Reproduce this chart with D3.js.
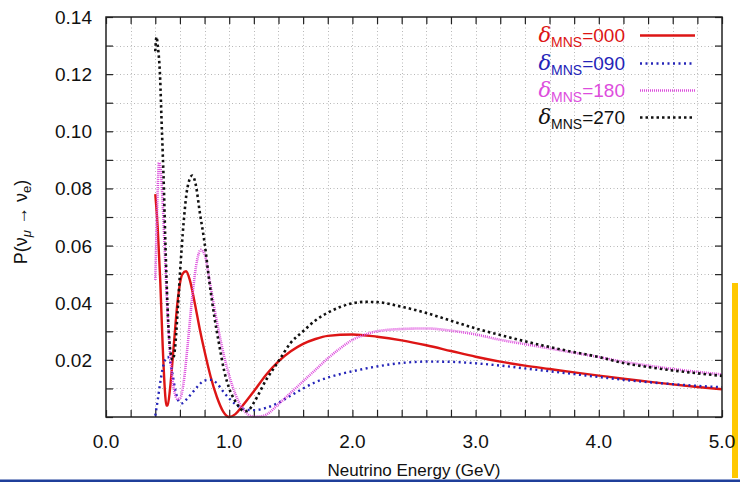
<!DOCTYPE html>
<html>
<head>
<meta charset="utf-8">
<script src="https://cdn.jsdelivr.net/npm/d3@7"></script>
<style>
  html, body { margin: 0; padding: 0; background: #fff; }
  svg { display: block; font-family: "Liberation Sans", Arial, Helvetica, sans-serif; }
</style>
</head>
<body>
<svg id="chart" width="740" height="483"></svg>
<script>
// ---------------- data ----------------
const xTickLabels = ["0.0", "1.0", "2.0", "3.0", "4.0", "5.0"];
const yTickLabels = ["0.02", "0.04", "0.06", "0.08", "0.10", "0.12", "0.14"];

const energy000 = [0.40,0.42,0.44,0.46,0.48,0.49,0.50,0.52,0.55,0.58,0.62,0.65,0.68,0.72,0.76,0.80,0.85,0.90,0.95,1.00,1.05,1.10,1.20,1.30,1.40,1.50,1.60,1.70,1.80,2.00,2.20,2.40,2.60,2.80,3.00,3.20,3.40,3.60,3.80,4.00,4.20,4.40,4.60,4.80,5.00];
const prob000   = [0.078,0.066,0.048,0.025,0.008,0.004,0.004,0.010,0.025,0.040,0.050,0.051,0.048,0.040,0.031,0.023,0.014,0.007,0.002,0.000,0.001,0.0035,0.009,0.0148,0.0195,0.023,0.0256,0.0273,0.0284,0.0289,0.0281,0.0268,0.0251,0.0231,0.0211,0.0194,0.0180,0.0168,0.0156,0.0145,0.0134,0.0124,0.0114,0.0105,0.0097];

const energy090 = [0.40,0.42,0.44,0.46,0.48,0.50,0.52,0.54,0.56,0.58,0.60,0.62,0.65,0.70,0.75,0.80,0.85,0.90,0.95,1.00,1.05,1.10,1.15,1.20,1.30,1.40,1.50,1.60,1.70,1.80,1.90,2.00,2.20,2.40,2.60,2.80,3.00,3.20,3.40,3.60,3.80,4.00,4.20,4.40,4.60,4.80,5.00];
const prob090   = [0.0005,0.006,0.012,0.017,0.020,0.021,0.0195,0.015,0.010,0.0065,0.005,0.0048,0.006,0.0085,0.011,0.0128,0.013,0.0118,0.009,0.0065,0.0045,0.0032,0.0025,0.0024,0.0032,0.005,0.0075,0.010,0.0122,0.0138,0.015,0.016,0.0177,0.0189,0.0194,0.0193,0.0188,0.018,0.017,0.016,0.015,0.014,0.013,0.0122,0.0115,0.0109,0.0104];

const energy180 = [0.40,0.41,0.42,0.43,0.44,0.46,0.48,0.50,0.52,0.54,0.56,0.58,0.60,0.63,0.66,0.70,0.74,0.77,0.80,0.84,0.88,0.92,0.96,1.00,1.05,1.10,1.15,1.20,1.25,1.30,1.40,1.50,1.60,1.70,1.80,1.90,2.00,2.10,2.20,2.40,2.60,2.80,3.00,3.20,3.40,3.60,3.80,4.00,4.20,4.40,4.60,4.80,5.00];
const prob180   = [0.048,0.065,0.080,0.089,0.088,0.075,0.055,0.036,0.022,0.013,0.008,0.0063,0.0065,0.012,0.024,0.042,0.055,0.0585,0.057,0.048,0.038,0.029,0.021,0.0145,0.008,0.0035,0.001,0.0001,0.0002,0.0008,0.0045,0.0085,0.0125,0.0165,0.0205,0.024,0.027,0.0288,0.030,0.0308,0.031,0.0302,0.0289,0.027,0.0255,0.024,0.0225,0.021,0.0193,0.018,0.0168,0.0158,0.0149];

const energy270 = [0.40,0.41,0.42,0.44,0.45,0.46,0.47,0.48,0.49,0.50,0.52,0.54,0.56,0.58,0.60,0.63,0.66,0.70,0.73,0.76,0.80,0.84,0.88,0.92,0.96,1.00,1.05,1.10,1.13,1.16,1.20,1.30,1.40,1.50,1.60,1.70,1.80,1.90,2.00,2.10,2.20,2.40,2.60,2.80,3.00,3.20,3.40,3.60,3.80,4.00,4.20,4.40,4.60,4.80,5.00];
const prob270   = [0.128,0.133,0.130,0.118,0.105,0.093,0.080,0.064,0.050,0.038,0.024,0.020,0.024,0.036,0.050,0.068,0.080,0.0845,0.081,0.072,0.061,0.047,0.035,0.025,0.016,0.010,0.0055,0.0025,0.002,0.0025,0.005,0.013,0.0195,0.026,0.030,0.0338,0.0365,0.0385,0.0398,0.0403,0.0402,0.0386,0.0364,0.0337,0.031,0.0287,0.0265,0.0245,0.0227,0.021,0.0189,0.0175,0.0163,0.0153,0.0144];

const seriesNames = ["000", "090", "180", "270"];
const seriesColors = ["#dd1515", "#2424b8", "#dd4ddd", "#111111"];

// ---------------- layout ----------------
const svg = d3.select("#chart");
const plotL = 106, plotR = 722, plotT = 17, plotB = 417;

const x = d3.scaleLinear().domain([0, 5]).range([plotL, plotR]);
const y = d3.scaleLinear().domain([0, 0.14]).range([plotB, plotT]);

// decorations outside the chart
svg.append("rect").attr("x", 732).attr("y", 283).attr("width", 6).attr("height", 195).attr("fill", "#ffc800");
svg.append("rect").attr("x", 0).attr("y", 479.5).attr("width", 740).attr("height", 2.5).attr("fill", "#1f3f9a");

// grid
const gx = d3.range(0, 5.0001, 0.2);
const gy = d3.range(0, 0.14001, 0.01);
const grid = svg.append("g").attr("stroke", "#b8b8b8").attr("stroke-width", 1).attr("stroke-dasharray", "1,2.5");
grid.selectAll("line.gx").data(gx.slice(1, -1)).join("line")
  .attr("x1", d => Math.round(x(d)) + 0.5).attr("x2", d => Math.round(x(d)) + 0.5)
  .attr("y1", plotT).attr("y2", plotB);
grid.selectAll("line.gy").data(gy.slice(1, -1)).join("line")
  .attr("y1", d => Math.round(y(d)) + 0.5).attr("y2", d => Math.round(y(d)) + 0.5)
  .attr("x1", plotL).attr("x2", plotR);

// axes with inward ticks
const tickLen = 7;
svg.append("g").attr("transform", `translate(0,${plotB})`)
  .call(d3.axisTop(x).tickValues(gx).tickSize(tickLen).tickFormat(""))
  .call(g => g.select(".domain").remove());
svg.append("g").attr("transform", `translate(0,${plotT})`)
  .call(d3.axisBottom(x).tickValues(gx).tickSize(tickLen).tickFormat(""))
  .call(g => g.select(".domain").remove());
svg.append("g").attr("transform", `translate(${plotL},0)`)
  .call(d3.axisRight(y).tickValues(gy).tickSize(tickLen).tickFormat(""))
  .call(g => g.select(".domain").remove());
svg.append("g").attr("transform", `translate(${plotR},0)`)
  .call(d3.axisLeft(y).tickValues(gy).tickSize(tickLen).tickFormat(""))
  .call(g => g.select(".domain").remove());
svg.selectAll(".tick line").attr("stroke", "#222").attr("stroke-width", 1.2);

// tick labels
svg.append("g").selectAll("text").data(xTickLabels).join("text")
  .attr("x", d => x(+d)).attr("y", 448)
  .attr("text-anchor", "middle").attr("font-size", 19).attr("fill", "#111")
  .text(d => d);
svg.append("g").selectAll("text").data(yTickLabels).join("text")
  .attr("x", 92).attr("y", d => y(+d) + 7)
  .attr("text-anchor", "end").attr("font-size", 19).attr("fill", "#111")
  .text(d => d);

// axis titles
svg.append("text").attr("x", 414).attr("y", 476).attr("text-anchor", "middle")
  .attr("font-size", 17).attr("fill", "#111").text("Neutrino Energy (GeV)");
const yt = svg.append("text").attr("transform", "translate(27,222) rotate(-90)")
  .attr("text-anchor", "middle").attr("font-size", 18).attr("fill", "#111");
yt.append("tspan").text("P(ν");
yt.append("tspan").attr("font-size", 13).attr("dy", 4).attr("font-style", "italic").text("μ");
yt.append("tspan").attr("dy", -4).text(" → ν");
yt.append("tspan").attr("font-size", 13).attr("dy", 4).text("e");
yt.append("tspan").attr("dy", -4).text(")");

// curves
const dataSets = [
  energy000.map((e, i) => [e, prob000[i]]),
  energy090.map((e, i) => [e, prob090[i]]),
  energy180.map((e, i) => [e, prob180[i]]),
  energy270.map((e, i) => [e, prob270[i]])
];
const styles = [
  { w: 2.4, dash: null },
  { w: 2.4, dash: "2,3.5" },
  { w: 2.6, dash: "1,1" },
  { w: 2.6, dash: "2.5,3" }
];
const line = d3.line().x(d => x(d[0])).y(d => y(d[1])).curve(d3.curveMonotoneX);
const plot = svg.append("g");
dataSets.forEach((ds, i) => {
  plot.append("path").datum(ds).attr("d", line)
    .attr("fill", "none").attr("stroke", seriesColors[i])
    .attr("stroke-width", styles[i].w)
    .attr("stroke-dasharray", styles[i].dash)
    .attr("stroke-linejoin", "round");
});

// legend
const legendRowsY = [42, 70, 97, 124];
const lg = svg.append("g");
seriesNames.forEach((name, i) => {
  const t = lg.append("text").attr("x", 625).attr("y", legendRowsY[i])
    .attr("text-anchor", "end").attr("fill", seriesColors[i]).attr("font-size", 19);
  t.append("tspan").attr("font-family", "DejaVu Serif, serif").attr("font-style", "italic").attr("font-size", 21).text("δ");
  t.append("tspan").attr("font-size", 14).attr("dy", 5).text("MNS");
  t.append("tspan").attr("dy", -5).text("=" + name);
  lg.append("line").attr("x1", 640).attr("x2", 695)
    .attr("y1", legendRowsY[i] - 6.5).attr("y2", legendRowsY[i] - 6.5)
    .attr("stroke", seriesColors[i]).attr("stroke-width", styles[i].w)
    .attr("stroke-dasharray", styles[i].dash);
});

// frame
svg.append("rect").attr("x", plotL).attr("y", plotT).attr("width", plotR - plotL).attr("height", plotB - plotT)
  .attr("fill", "none").attr("stroke", "#222").attr("stroke-width", 1.5);
</script>
</body>
</html>
